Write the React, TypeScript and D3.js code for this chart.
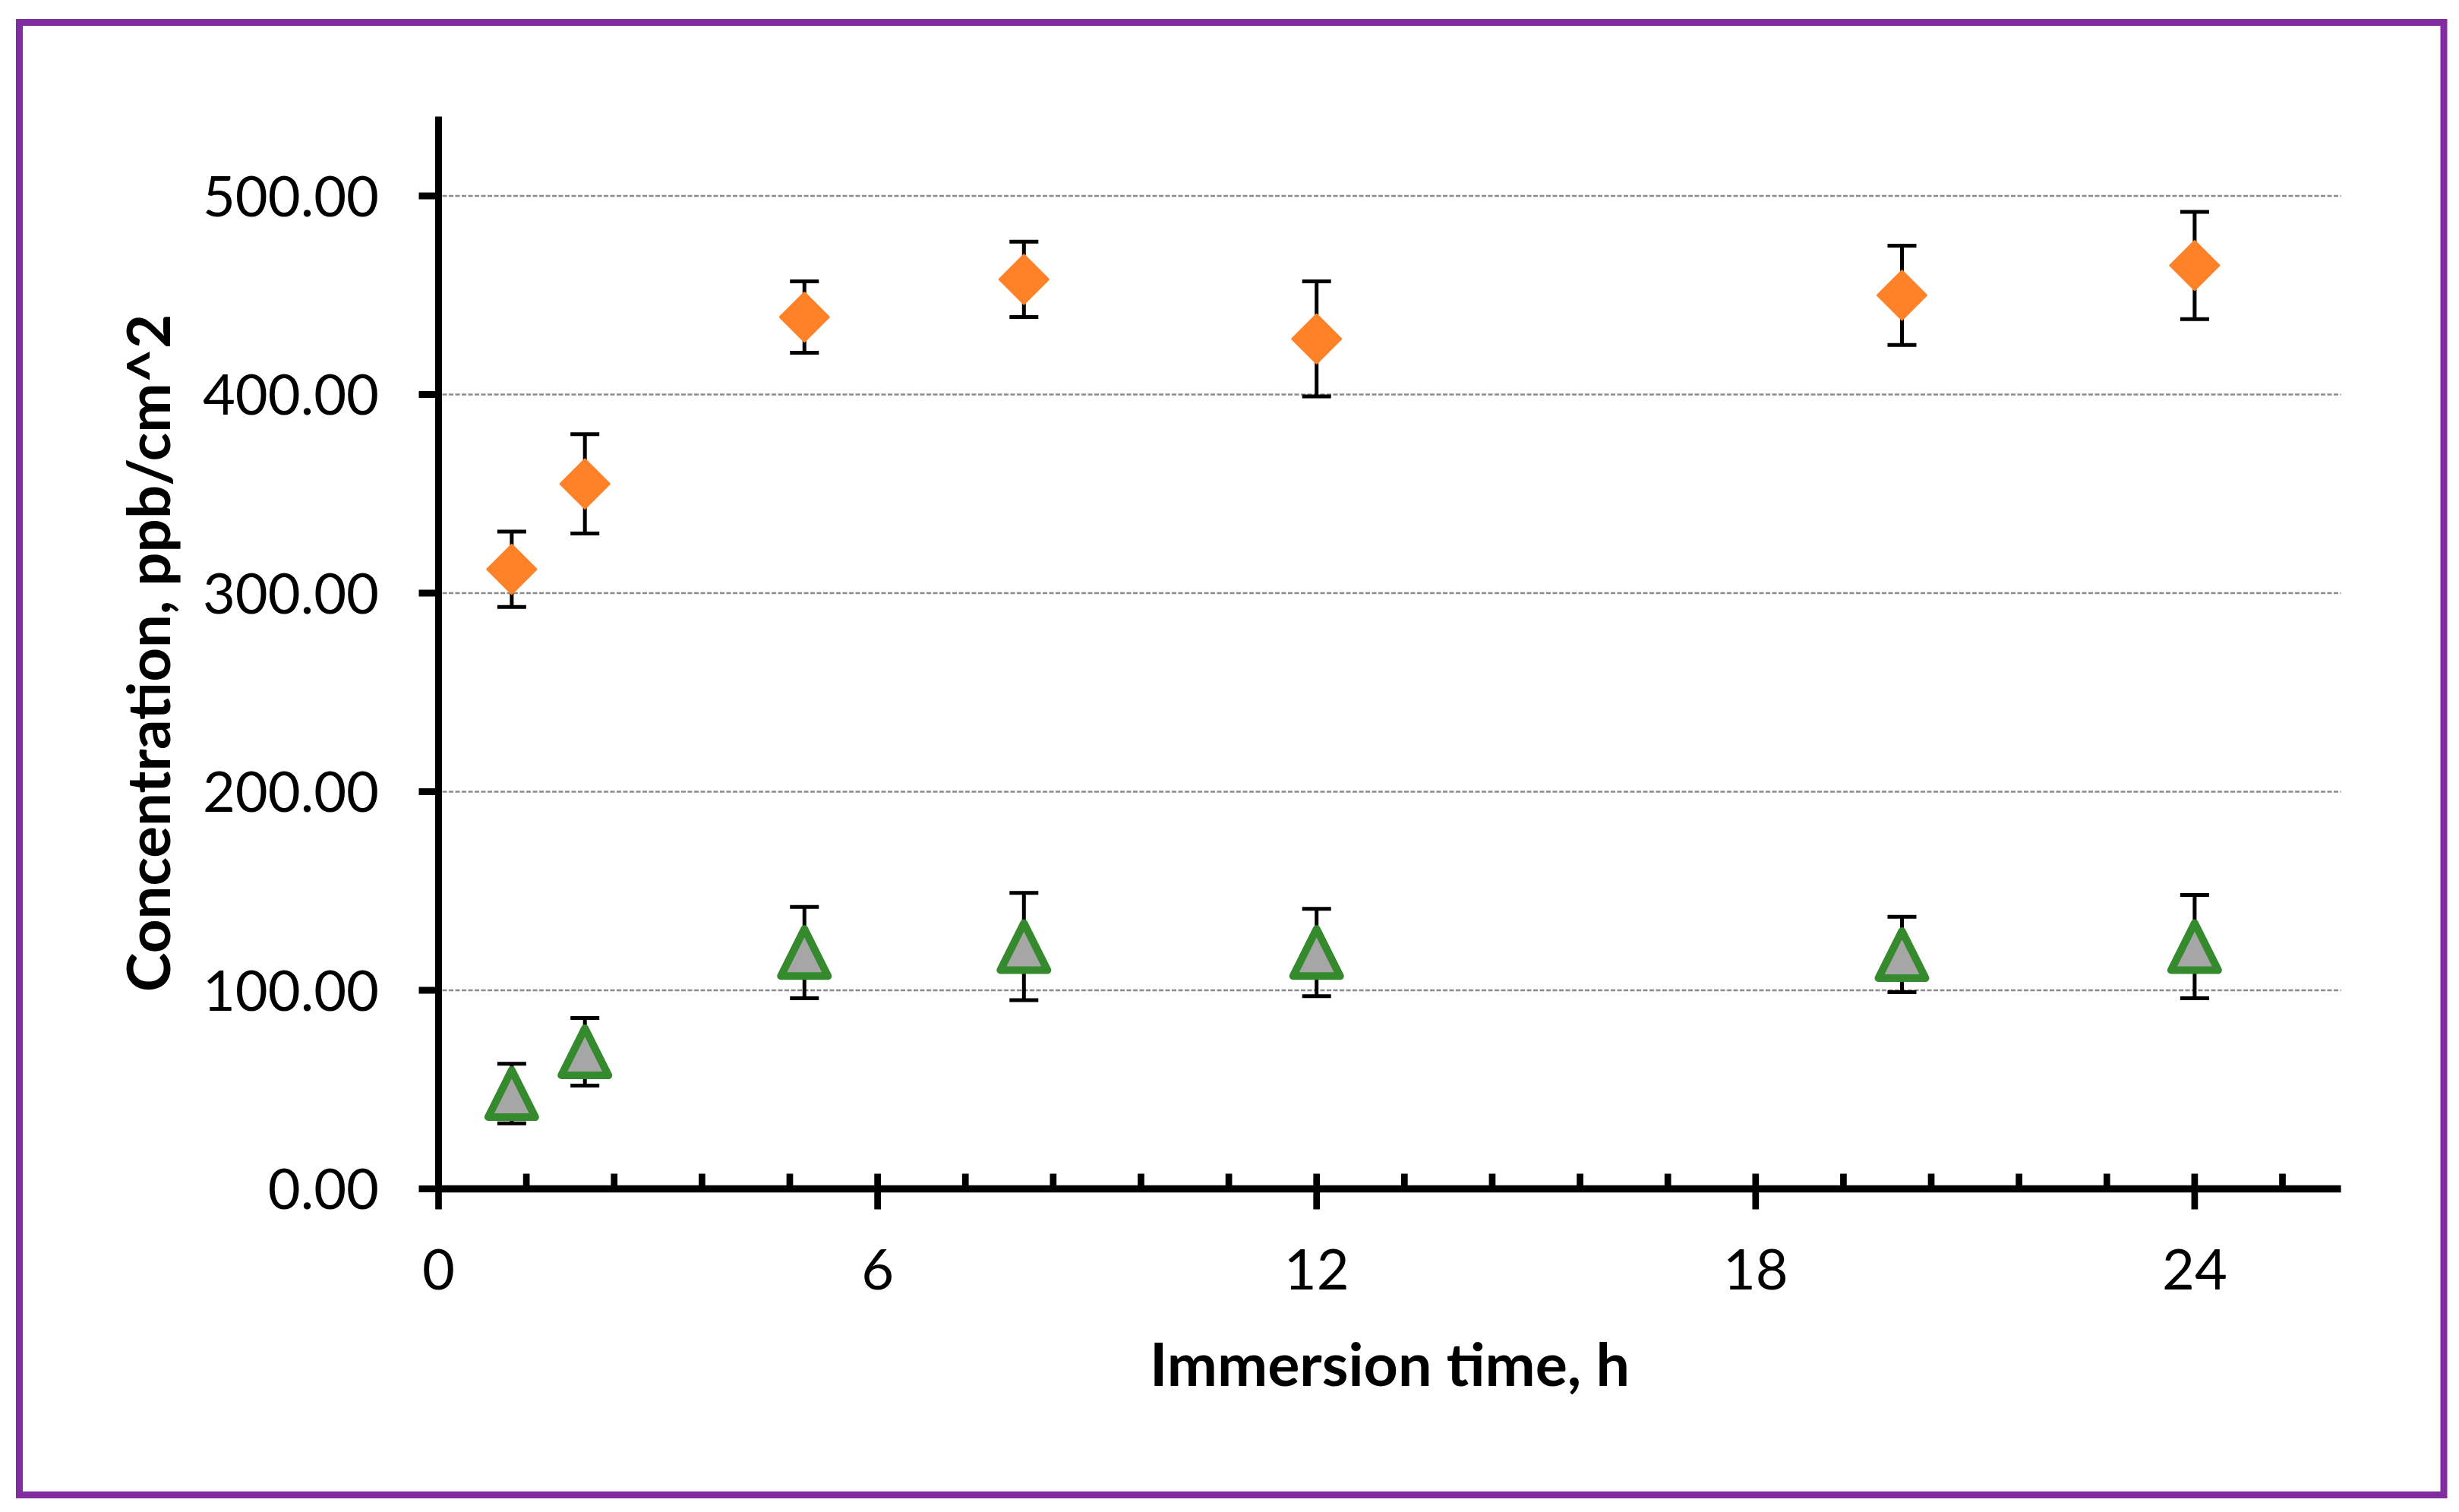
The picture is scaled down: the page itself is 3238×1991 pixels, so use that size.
import React, { useEffect, useRef } from 'react';
import * as d3 from 'd3';

// immersion times (h) and the two measured series with their error bars
const hours = [1, 2, 5, 8, 12, 20, 24];
const orangeMean = [312, 355, 439, 458, 428, 450, 465];
const orangeErr = [19, 25, 18, 19, 29, 25, 27];
const greenMean = [48, 69, 119, 122, 119, 118, 122];
const greenErr = [15, 17, 23, 27, 22, 19, 26];

const yTicks = [0, 100, 200, 300, 400, 500];
const xTicks = [0, 6, 12, 18, 24];
const xMinorStep = 1.2;

const W = 3238;
const H = 1991;

const App: React.FC = () => {
  const ref = useRef<SVGSVGElement>(null);

  useEffect(() => {
    if (!ref.current) return;
    const svg = d3.select(ref.current);
    svg.selectAll('*').remove();

    const x = d3.scaleLinear().domain([0, 26]).range([577.5, 3082.6]);
    const y = d3.scaleLinear().domain([0, 540]).range([1565.5, 153.4]);

    const minor = d3.range(1, 22).filter(i => i % 5 !== 0).map(i => i * xMinorStep);

    svg.append('rect').attr('width', W).attr('height', H).attr('fill', '#fff');

    // purple frame
    svg.append('rect')
      .attr('x', 25.5).attr('y', 29.5)
      .attr('width', 3192.5).attr('height', 1939)
      .attr('fill', 'none')
      .attr('stroke', '#812ca0')
      .attr('stroke-width', 9);

    // gridlines
    svg.append('g')
      .selectAll('line')
      .data(yTicks.filter(d => d > 0))
      .join('line')
      .attr('x1', x(0) + 5).attr('x2', x(26))
      .attr('y1', d => y(d)).attr('y2', d => y(d))
      .attr('stroke', '#8c8c8c')
      .attr('stroke-width', 2.5)
      .attr('stroke-dasharray', '6 2.5');

    const series = [
      { mean: orangeMean, err: orangeErr },
      { mean: greenMean, err: greenErr },
    ];

    // error bars (behind markers)
    const bars = svg.append('g').attr('stroke', '#000').attr('stroke-width', 5);
    series.forEach(s => {
      hours.forEach((h, i) => {
        const cx = x(h);
        const top = y(s.mean[i] + s.err[i]);
        const bot = y(s.mean[i] - s.err[i]);
        bars.append('line').attr('x1', cx).attr('x2', cx).attr('y1', top).attr('y2', bot);
        bars.append('line').attr('x1', cx - 19).attr('x2', cx + 19).attr('y1', top).attr('y2', top);
        bars.append('line').attr('x1', cx - 19).attr('x2', cx + 19).attr('y1', bot).attr('y2', bot);
      });
    });

    // axes
    const axes = svg.append('g').attr('stroke', '#000');
    axes.append('line')
      .attr('x1', x(0)).attr('x2', x(0))
      .attr('y1', y(540)).attr('y2', y(0))
      .attr('stroke-width', 9);
    axes.append('line')
      .attr('x1', x(0)).attr('x2', x(26))
      .attr('y1', y(0)).attr('y2', y(0))
      .attr('stroke-width', 9.5);
    axes.selectAll('.ytick')
      .data(yTicks)
      .join('line')
      .attr('class', 'ytick')
      .attr('x1', x(0) - 26).attr('x2', x(0))
      .attr('y1', d => y(d)).attr('y2', d => y(d))
      .attr('stroke-width', 9);
    axes.selectAll('.xtick')
      .data(xTicks)
      .join('line')
      .attr('class', 'xtick')
      .attr('x1', d => x(d)).attr('x2', d => x(d))
      .attr('y1', y(0) - 20).attr('y2', y(0) + 27)
      .attr('stroke-width', 8.7);
    axes.selectAll('.xminor')
      .data(minor)
      .join('line')
      .attr('class', 'xminor')
      .attr('x1', d => x(d)).attr('x2', d => x(d))
      .attr('y1', y(0) - 20).attr('y2', y(0))
      .attr('stroke-width', 8.7);

    // markers
    svg.append('g')
      .selectAll('path')
      .data(hours.map((h, i) => [h, orangeMean[i]]))
      .join('path')
      .attr('d', 'M0,-32L32,0L0,32L-32,0Z')
      .attr('transform', d => `translate(${x(d[0])},${y(d[1])})`)
      .attr('fill', '#ff8128')
      .attr('stroke', '#ff8128')
      .attr('stroke-width', 3)
      .attr('stroke-linejoin', 'round');

    svg.append('g')
      .selectAll('path')
      .data(hours.map((h, i) => [h, greenMean[i]]))
      .join('path')
      .attr('d', 'M0,-31L31,31L-31,31Z')
      .attr('transform', d => `translate(${x(d[0])},${y(d[1])})`)
      .attr('fill', '#a6a6a6')
      .attr('stroke', '#348a2c')
      .attr('stroke-width', 10)
      .attr('stroke-linejoin', 'round');

    // tick labels
    const fmt = d3.format('.2f');
    svg.append('g')
      .selectAll('text')
      .data(yTicks)
      .join('text')
      .attr('x', 499)
      .attr('y', d => y(d) + 26.5)
      .attr('text-anchor', 'end')
      .attr('font-family', 'Lato, sans-serif')
      .attr('font-size', 74)
      .attr('fill', '#000')
      .text(d => fmt(d));

    svg.append('g')
      .selectAll('text')
      .data(xTicks)
      .join('text')
      .attr('x', d => x(d))
      .attr('y', 1698)
      .attr('text-anchor', 'middle')
      .attr('font-family', 'Lato, sans-serif')
      .attr('font-size', 74)
      .attr('fill', '#000')
      .text(d => String(d));

    // axis titles
    svg.append('text')
      .attr('x', (x(0) + x(26)) / 2)
      .attr('y', 1825)
      .attr('text-anchor', 'middle')
      .attr('font-family', 'Lato, sans-serif')
      .attr('font-weight', 700)
      .attr('font-size', 79)
      .text('Immersion time, h');

    svg.append('text')
      .attr('transform', 'translate(224,860) rotate(-90)')
      .attr('text-anchor', 'middle')
      .attr('font-family', 'Lato, sans-serif')
      .attr('font-weight', 700)
      .attr('font-size', 78)
      .text('Concentration, ppb/cm^2');
  }, []);

  return (
    <div style={{ position: 'absolute', left: 0, top: 0 }}>
      <svg ref={ref} width={W} height={H} style={{ display: 'block' }} />
    </div>
  );
};

export default App;
